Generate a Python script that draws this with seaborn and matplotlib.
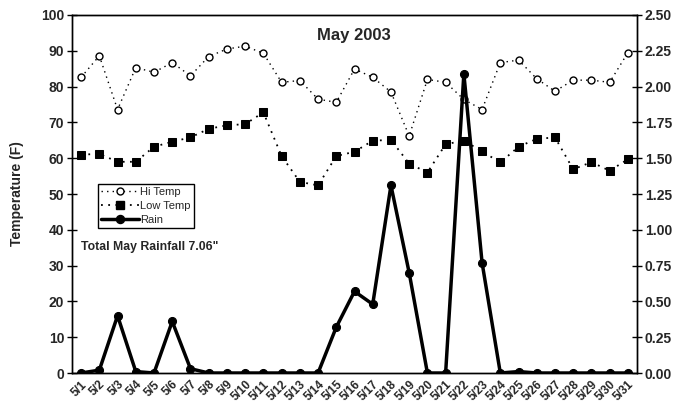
import matplotlib
matplotlib.use("Agg")
import matplotlib.pyplot as plt
import matplotlib.transforms as mtransforms
import seaborn as sns
import numpy as np
import pandas as pd
from matplotlib.lines import Line2D

days = [f"5/{d}" for d in range(1, 32)]
hi_temp = [82.6, 88.6, 73.6, 85.3, 84.0, 86.7, 83.0, 88.4, 90.5, 91.3, 89.3,
           81.2, 81.7, 76.5, 75.6, 84.9, 82.6, 78.5, 66.2, 82.0, 81.2, 76.4,
           73.6, 86.7, 87.4, 82.2, 78.7, 81.8, 81.8, 81.2, 89.5]
low_temp = [61.0, 61.2, 59.0, 59.0, 63.2, 64.6, 65.8, 68.2, 69.2, 69.5, 72.8,
            60.6, 53.4, 52.4, 60.6, 61.8, 64.9, 65.1, 58.5, 56.0, 63.9, 64.9,
            61.9, 58.8, 63.2, 65.4, 65.8, 56.9, 58.9, 56.5, 59.7]
rain = [0.00, 0.02, 0.40, 0.01, 0.00, 0.36, 0.03, 0.00, 0.00, 0.00, 0.00,
        0.00, 0.00, 0.00, 0.32, 0.57, 0.48, 1.31, 0.70, 0.00, 0.00, 2.09,
        0.77, 0.00, 0.01, 0.00, 0.00, 0.00, 0.00, 0.00, 0.00]
left_ticks = list(range(0, 101, 10))
right_ticks = [0.0, 0.25, 0.5, 0.75, 1.0, 1.25, 1.5, 1.75, 2.0, 2.25, 2.5]

sns.set_style("white")
plt.rcParams['font.family'] = ['Liberation Sans', 'DejaVu Sans']

df = pd.DataFrame({"idx": np.arange(len(days)), "day": days,
                   "hi": hi_temp, "low": low_temp, "rain": rain})

fig = plt.figure(figsize=(6.83, 4.11), dpi=100)
ax = fig.add_axes([72/683, 38/411, 565/683, 358/411])
ax2 = ax.twinx()

hi_kw = dict(color="black", lw=1.0, linestyle=(0, (1, 3)), marker="o",
             markersize=5, markerfacecolor="white", markeredgecolor="black",
             markeredgewidth=1.0)
low_kw = dict(color="black", lw=1.3, linestyle=(0, (1, 3)), marker="s",
              markersize=5.3, markerfacecolor="black", markeredgecolor="black")
rain_kw = dict(color="black", lw=2.5, marker="o", markersize=5.8,
               markerfacecolor="black", markeredgecolor="black")

sns.lineplot(data=df, x="idx", y="hi", ax=ax, zorder=3, **hi_kw)
sns.lineplot(data=df, x="idx", y="low", ax=ax, zorder=3, **low_kw)
sns.lineplot(data=df, x="idx", y="rain", ax=ax2, zorder=4, **rain_kw)

ax.set_xlim(-0.5, len(days) - 0.5)
ax.set_ylim(0, 100)
ax2.set_ylim(0, 2.5)
ax.set_yticks(left_ticks)
ax.set_yticklabels([str(t) for t in left_ticks], fontsize=10, fontweight="bold")
ax2.set_yticks(right_ticks)
ax2.set_yticklabels([f"{t:.2f}" for t in right_ticks], fontsize=10, fontweight="bold")

# major ticks at category boundaries, labels at centers
ax.set_xticks(np.arange(-0.5, len(days), 1.0))
ax.set_xticklabels([])
ax.set_xticks(np.arange(len(days)), minor=True)
ax.set_xticklabels(days, minor=True, rotation=45, ha="right", va="top",
                   rotation_mode="anchor", fontsize=8.5, fontweight="bold")
offset = mtransforms.ScaledTranslation(-5/100, 0, fig.dpi_scale_trans)
for lab in ax.get_xticklabels(minor=True):
    lab.set_transform(lab.get_transform() + offset)
ax.tick_params(axis="x", which="major", direction="inout", length=6, width=1, color="black")
ax.tick_params(axis="x", which="minor", length=0, pad=4)
ax.tick_params(axis="y", direction="inout", length=7, width=1, color="black", pad=2)
ax2.tick_params(axis="y", direction="inout", length=7, width=1, color="black", pad=2)

ax.set_xlabel("")
ax.set_ylabel("Temperature (F)", fontsize=10, fontweight="bold", labelpad=12)
ax2.set_ylabel("")

for a in (ax, ax2):
    for s in a.spines.values():
        s.set_color("black")
        s.set_linewidth(1.0)
    a.grid(False)

ax.text(0.499, 0.944, "May 2003", transform=ax.transAxes, ha="center",
        va="center", fontsize=12, fontweight="bold")
ax.text(0.016, 0.352, "Total May Rainfall 7.06\"", transform=ax.transAxes,
        ha="left", va="center", fontsize=8.8, fontweight="bold")

handles = [Line2D([], [], **hi_kw), Line2D([], [], **low_kw), Line2D([], [], **rain_kw)]
leg = ax2.legend(handles, ["Hi Temp", "Low Temp", "Rain"], loc="lower left",
                 bbox_to_anchor=(0.046, 0.405), fontsize=8, frameon=True,
                 fancybox=False, edgecolor="black", framealpha=1,
                 handlelength=3.4, handletextpad=0.1, borderpad=0.3,
                 labelspacing=0.35, borderaxespad=0, numpoints=1)
leg.get_frame().set_linewidth(1.0)

fig.savefig("out.png", dpi=100)
